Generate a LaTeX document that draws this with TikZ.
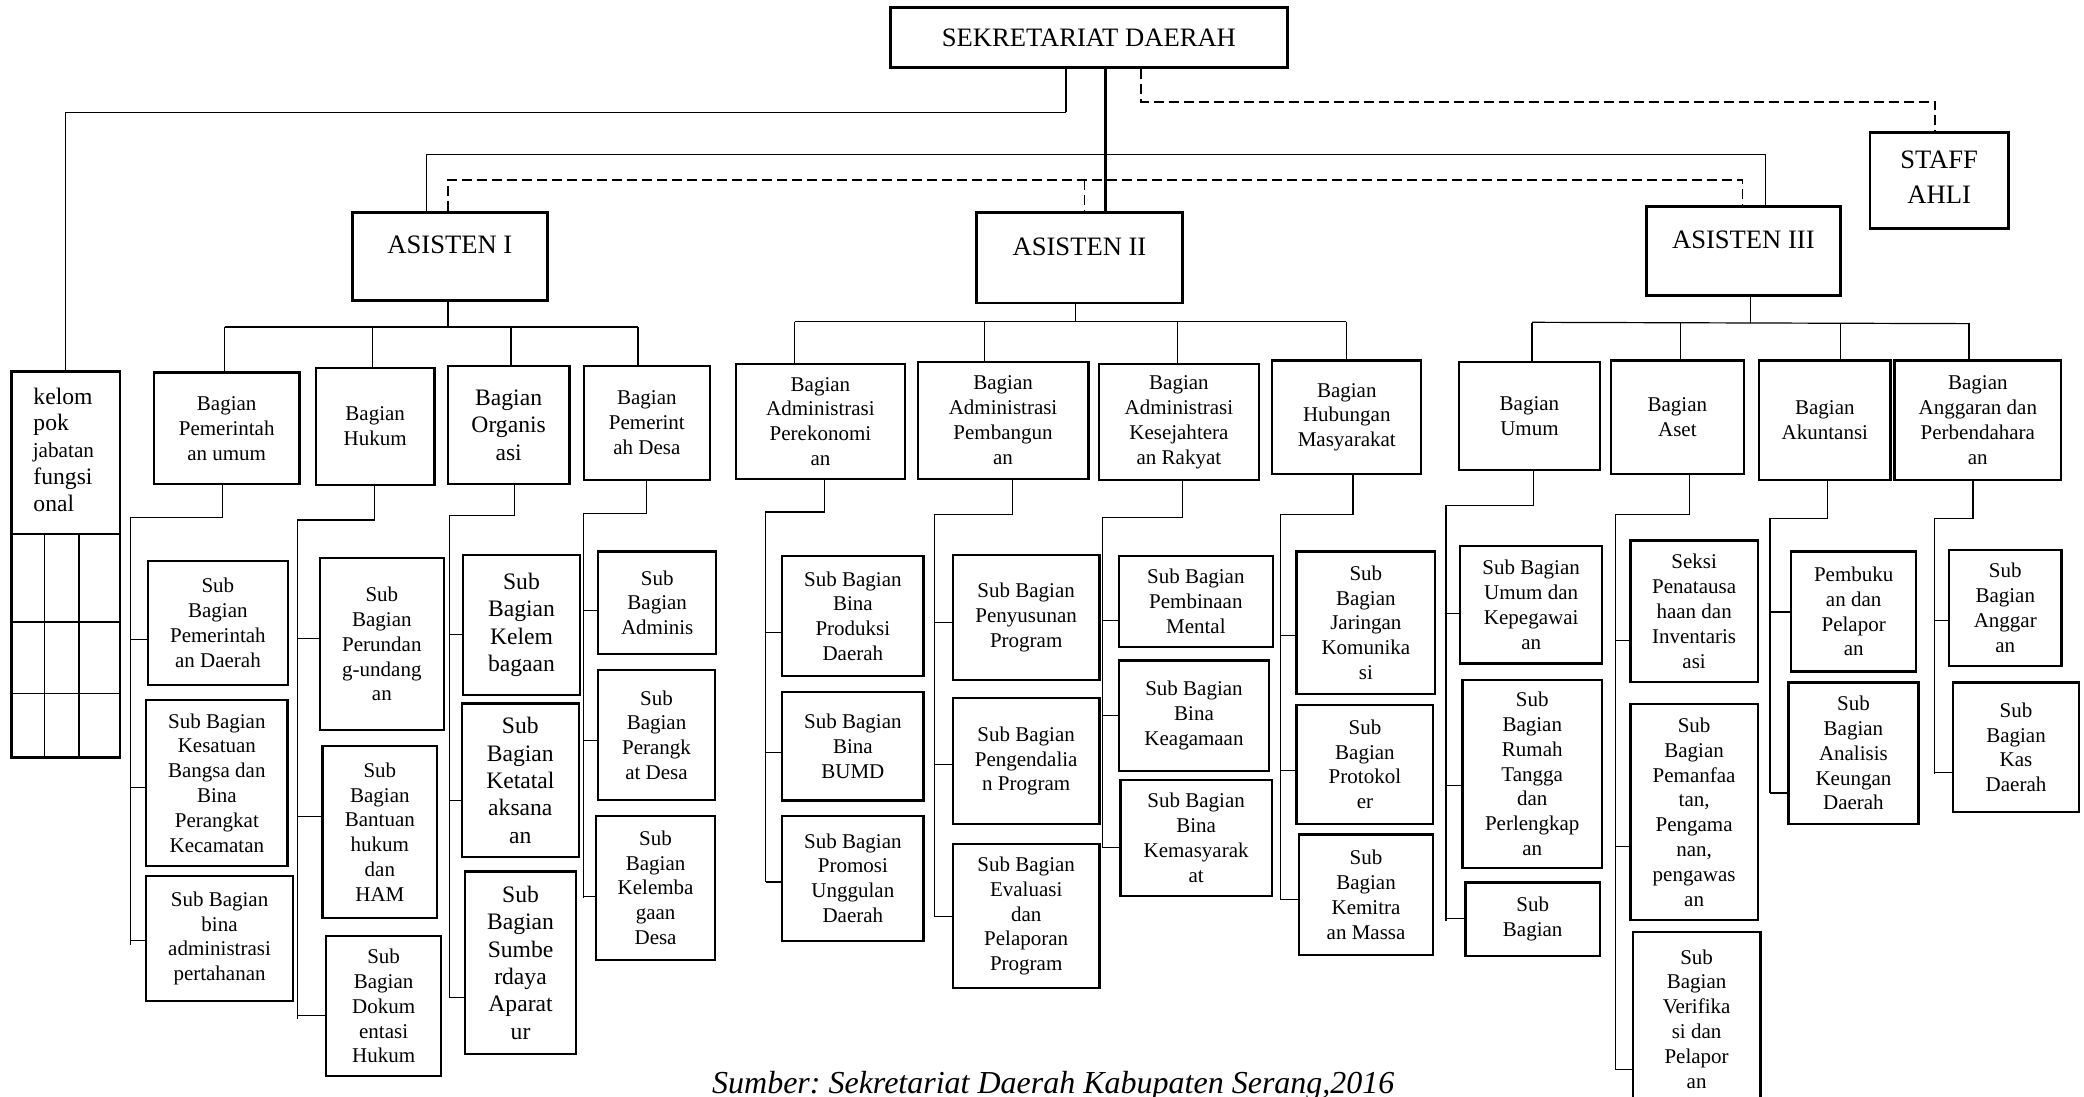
\documentclass[tikz,border=0pt]{standalone}
\usepackage{fontspec}
\setmainfont{Liberation Serif}
\begin{document}
\frenchspacing
\begin{tikzpicture}[x=0.6645pt,y=-0.6645pt,
  box/.style={draw,line width=1.1pt,align=center,inner sep=0pt,
    font=\fontsize{10.5}{12.4}\selectfont},
  big/.style={font=\fontsize{11.8}{13.7}\selectfont},
  head/.style={line width=1.4pt},
  title/.style={font=\fontsize{13.3}{17.5}\selectfont},
  conn/.style={line width=0.6pt},
  midconn/.style={line width=0.85pt},
  thickconn/.style={line width=1.35pt},
  dashline/.style={line width=0.9pt,dash pattern=on 5pt off 2.5pt},
  lbl/.style={inner sep=0pt}]
\useasboundingbox (0,0) rectangle (1568,825);

% box given by its corners (x1,y1) and (x2,y2)
\newcommand\orgbox[7][]{%
  \pgfmathsetmacro\boxW{(#5-#3)*0.6645}%
  \pgfmathsetmacro\boxH{(#6-#4)*0.6645}%
  \node[box,#1,minimum width=\boxW pt,minimum height=\boxH pt] (#2)
    at ({(#3+#5)/2},{(#4+#6)/2}) {#7};}

% parent -> bus -> children: drop x, bus y, spine x, spine end y, stubs y/child
\newcommand\branch[6]{%
  \draw[conn] (#2,0 |- #1.south) -- (#2,#3) -- (#4,#3) -- (#4,#5);
  \foreach \sy/\sn in {#6} \draw[conn] (#4,\sy) -- (#4,\sy -| \sn.west);}

% ---------------- top level ----------------
\orgbox[head,title]{sekda}{670}{5.5}{968.5}{51}{SEKRETARIAT DAERAH}
\orgbox[head]{staff}{1407}{99.5}{1511}{172}{}
\node[lbl,title,align=center] (stafft) at (1459,133.5) {STAFF\\AHLI};

\orgbox[head]{as1}{265}{160}{412}{226}{}
\orgbox[head]{as2}{735}{160}{889.5}{228}{}
\orgbox[head]{as3}{1239}{155.5}{1384.5}{222.5}{}
\node[lbl,title] (as1t) at (338.5,184.3) {ASISTEN I};
\node[lbl,title] (as2t) at (812.2,185.6) {ASISTEN II};
\node[lbl,title] (as3t) at (1311.7,180.6) {ASISTEN III};

% kelompok jabatan fungsional
\orgbox{kel}{8.6}{279.5}{90.5}{570}{}
\draw[conn] (kel.west |- 0,401.7) -- (kel.east |- 0,401.7);
\draw[conn] (kel.west |- 0,468) -- (kel.east |- 0,468);
\draw[conn] (kel.west |- 0,522) -- (kel.east |- 0,522);
\draw[conn] (33.5,401.7) -- (33.5,0 |- kel.south);
\draw[conn] (59.4,401.7) -- (59.4,0 |- kel.south);
\begin{scope}[every node/.style={lbl,anchor=base west,font=\fontsize{11.8}{13.4}\selectfont}]
\node (kt1) at (24.9,304) {kelom};
\node (kt2) at (24.9,324.2) {pok};
\node[font=\fontsize{10.6}{13.4}\selectfont] (kt3) at (24.4,344.4) {jabatan};
\node (kt4) at (24.9,364.6) {fungsi};
\node (kt5) at (24.9,384.8) {onal};
\end{scope}

% ---------------- lines from the top ----------------
\coordinate (kelbend) at (802,84.5);
\draw[midconn] (kelbend |- sekda.south) -- (kelbend);
\draw[conn] (kelbend) -| (kel.north);
\draw[thickconn] (832,0 |- sekda.south) -- (832,0 |- as2.north);
\coordinate (stfbend) at (858.5,76.5);
\draw[dashline] (stfbend |- sekda.south) -- (stfbend) -- (1456,76.5) -- (1456,0 |- staff.north);
\coordinate (solidL) at (321,116);
\coordinate (solidR) at (1328.5,116);
\draw[conn] (solidL |- as1.north) -- (solidL) -- (solidR) -- (solidR |- as3.north);
\coordinate (dashL) at (337,135.5);
\coordinate (dashR) at (1311,135.5);
\draw[dashline] (dashL |- as1.north) -- (dashL) -- (dashR) -- (dashR |- as3.north);
\draw[dashline] (816,135.5) -- (816,0 |- as2.north);

% ---------------- second level ----------------
\orgbox{pu}{115.8}{280.2}{225.3}{364.4}{Bagian\\Pemerintah\\an umum}
\orgbox{hk}{237.7}{277}{326.9}{364.8}{Bagian\\Hukum}
\orgbox[big]{org}{336.9}{275.2}{428.5}{364.4}{Bagian\\Organis\\asi}
\orgbox{desa}{439.5}{275.2}{533.9}{360.9}{Bagian\\Pemerint\\ah Desa}

\orgbox{ek}{553.9}{274.1}{680.7}{360.1}{Bagian\\Administrasi\\Perekonomi\\an}
\orgbox{bg}{690.4}{272.4}{819}{360.1}{Bagian\\Administrasi\\Pembangun\\an}
\orgbox{ks}{826.9}{274.1}{947.1}{361.2}{Bagian\\Administrasi\\Kesejahtera\\an Rakyat}
\orgbox{hm}{957.2}{271.3}{1069.4}{356.6}{Bagian\\Hubungan\\Masyarakat}

\orgbox{um}{1097.7}{272.4}{1203.8}{353.7}{Bagian\\Umum}
\orgbox{aset}{1212}{271.3}{1312.1}{356.6}{Bagian\\Aset}
\orgbox{ak}{1323.6}{271.3}{1422.4}{360.9}{Bagian\\Akuntansi}
\orgbox{ag}{1425.4}{271.3}{1550.8}{361.2}{Bagian\\Anggaran dan\\Perbendahara\\an}

% buses under the assistants
\draw[conn] (337,0 |- as1.south) -- (337,246);
\draw[conn] (169,246) -- (480,246);
\foreach \dx/\dn in {169/pu,280/hk,384.5/org,480/desa}
  \draw[conn] (\dx,246) -- (\dx,0 |- \dn.north);
\draw[conn] (809,0 |- as2.south) -- (809,242);
\draw[conn] (597.8,242) -- (1012.8,242);
\foreach \dx/\dn in {597.8/ek,740.8/bg,886/ks,1012.8/hm}
  \draw[conn] (\dx,242) -- (\dx,0 |- \dn.north);
\draw[conn] (1317,0 |- as3.south) -- (1317,243);
\draw[conn] (1152.7,242.5) -- (1481.5,243.5);
\foreach \dx/\dn in {1152.7/um,1264.6/aset,1384.6/ak,1481.5/ag}
  \draw[conn] (\dx,243) -- (\dx,0 |- \dn.north);

% ---------------- third level ----------------
\orgbox{spd}{111.3}{421.8}{216.6}{515.6}{Sub\\Bagian\\Pemerintah\\an Daerah}
\orgbox{kes}{110}{526.7}{216.3}{651.4}{Sub Bagian\\Kesatuan\\Bangsa dan\\Bina\\Perangkat\\Kecamatan}
\orgbox{badm}{110}{659}{220.4}{753.2}{Sub Bagian\\bina\\administrasi\\pertahanan}
\orgbox{pud}{240.8}{420}{333.8}{549.3}{Sub\\Bagian\\Perundan\\g-undang\\an}
\orgbox{bhk}{242.6}{561.1}{329}{690.8}{Sub\\Bagian\\Bantuan\\hukum\\dan\\HAM}
\orgbox{dok}{245.3}{704.1}{332}{809.8}{Sub\\Bagian\\Dokum\\entasi\\Hukum}
\orgbox[big]{klb}{348.3}{417.5}{436.4}{522.8}{Sub\\Bagian\\Kelem\\bagaan}
\orgbox[big]{ktl}{347.6}{529.3}{435.4}{645}{Sub\\Bagian\\Ketatal\\aksana\\an}
\orgbox[big]{sda}{349.7}{655.7}{433.6}{793}{Sub\\Bagian\\Sumbe\\rdaya\\Aparat\\ur}
\orgbox{adm}{449.9}{415}{539}{492}{Sub\\Bagian\\Adminis}
\orgbox{prk}{449.9}{504.2}{538}{602}{Sub\\Bagian\\Perangk\\at Desa}
\orgbox{kld}{448.5}{613.8}{538}{722}{Sub\\Bagian\\Kelemba\\gaan\\Desa}

\orgbox{bpd}{588.5}{418.5}{694.9}{508.5}{Sub Bagian\\Bina\\Produksi\\Daerah}
\orgbox{bumd}{588.5}{520.7}{694.9}{602.3}{Sub Bagian\\Bina\\BUMD}
\orgbox{pro}{588.5}{613.8}{694.9}{707.7}{Sub Bagian\\Promosi\\Unggulan\\Daerah}
\orgbox{pny}{717}{417.5}{827.2}{511.7}{Sub Bagian\\Penyusunan\\Program}
\orgbox{pgd}{717}{525.3}{827.2}{619.9}{Sub Bagian\\Pengendalia\\n Program}
\orgbox{evl}{717}{635}{827.2}{743.5}{Sub Bagian\\Evaluasi\\dan\\Pelaporan\\Program}
\orgbox{pmm}{841.7}{418.5}{957.8}{486.6}{Sub Bagian\\Pembinaan\\Mental}
\orgbox{kgm}{841.7}{497}{955}{580}{Sub Bagian\\Bina\\Keagamaan}
\orgbox{kms}{843.1}{587}{956.8}{674}{Sub Bagian\\Bina\\Kemasyarak\\at}
\orgbox{jkm}{975.5}{415}{1079.8}{522}{Sub\\Bagian\\Jaringan\\Komunika\\si}
\orgbox{ptk}{975.5}{530.3}{1078.4}{619.9}{Sub\\Bagian\\Protokol\\er}
\orgbox{kmt}{977.2}{627.8}{1078.4}{718.4}{Sub\\Bagian\\Kemitra\\an Massa}

\orgbox{uk}{1098.7}{411}{1205.4}{499.2}{Sub Bagian\\Umum dan\\Kepegawai\\an}
\orgbox{rt}{1100.3}{511.7}{1205.4}{652.9}{Sub\\Bagian\\Rumah\\Tangga\\dan\\Perlengkap\\an}
\orgbox{sb}{1102.6}{664}{1203.8}{719.2}{Sub\\Bagian}
\orgbox{sks}{1226.7}{406.7}{1322.6}{513.1}{Seksi\\Penatausa\\haan dan\\Inventaris\\asi}
\orgbox{pmf}{1226.7}{529.6}{1322.6}{692.3}{Sub\\Bagian\\Pemanfaa\\tan,\\Pengama\\nan,\\pengawas\\an}
\orgbox{vrf}{1228.4}{701.2}{1324.6}{832}{Sub\\Bagian\\Verifika\\si dan\\Pelapor\\an}
\orgbox{pbk}{1347.6}{415}{1441.8}{505.3}{Pembuku\\an dan\\Pelapor\\an}
\orgbox{ana}{1345.6}{513.5}{1443.4}{619.9}{Sub\\Bagian\\Analisis\\Keungan\\Daerah}
\orgbox{sba}{1466.4}{413.9}{1551.1}{501}{Sub\\Bagian\\Anggar\\an}
\orgbox{kas}{1469.7}{513.5}{1564}{611}{Sub\\Bagian\\Kas\\Daerah}

% ---------------- branch connectors ----------------
\branch{pu}{167.6}{389.5}{98}{711}{481.2/spd,592.3/kes,707.7/badm}
\branch{hk}{281.6}{391.3}{223.6}{766.8}{480.5/pud,614.2/bhk,764.3/dok}
\branch{org}{387}{388}{338}{750.7}{477.3/klb,602/ktl,750.7/sda}
\branch{desa}{486.5}{386.3}{439}{675.4}{459.4/adm,557.2/prk,674.4/kld}
\branch{ek}{620.2}{385.2}{576}{663.6}{475.9/bpd,566.2/bumd,663.6/pro}
\branch{bg}{762}{387}{703}{689.8}{468.3/pny,575.1/pgd,689.8/evl}
\branch{ks}{889.8}{389.5}{829.3}{637.8}{466.9/pmm,538.6/kgm,637.8/kms}
\branch{hm}{1018}{387}{963.5}{677}{478.4/jkm,579.8/ptk,677/kmt}
\branch{um}{1153.5}{380.6}{1088}{693.3}{461.5/uk,591.2/rt,690.8/sb}
\branch{aset}{1271}{387}{1215.3}{804.4}{482/sks,637.1/pmf,804.4/vrf}
\branch{ak}{1375}{389.9}{1331.8}{596.6}{460.5/pbk,596.6/ana}
\branch{ag}{1484.4}{389.9}{1455.5}{582.3}{466.9/sba,581.2/kas}

% ---------------- source line ----------------
\node[lbl,anchor=base,font=\itshape\fontsize{16}{19}\selectfont] (src) at (792.5,822.5)
  {Sumber: Sekretariat Daerah Kabupaten Serang,2016};
\end{tikzpicture}
\end{document}
